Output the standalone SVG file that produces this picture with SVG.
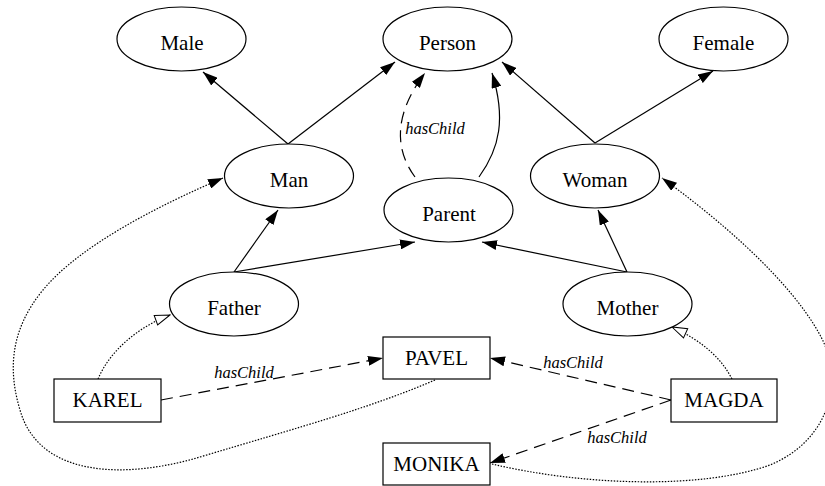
<svg xmlns="http://www.w3.org/2000/svg" width="825" height="486" viewBox="0 0 825 486">
  <defs>
    <marker id="arrow" markerUnits="userSpaceOnUse" viewBox="0 0 15 10" refX="15" refY="5" markerWidth="15" markerHeight="10" orient="auto">
      <path d="M0,0 L15,5 L0,10 z" fill="#000"/>
    </marker>
    <marker id="hollow" markerUnits="userSpaceOnUse" viewBox="-1 -1 17 12" refX="15" refY="5" markerWidth="17" markerHeight="12" orient="auto">
      <path d="M0,0 L15,5 L0,10 z" fill="#fff" stroke="#000" stroke-width="1"/>
    </marker>
  </defs>
  <style>
    .node ellipse, .node rect { fill: #fff; stroke: #000; stroke-width: 1.2; }
    .node text { font-family: "Liberation Serif", "Times New Roman", serif; font-size: 21px; text-anchor: middle; fill: #000; }
    .edge { fill: none; stroke: #000; stroke-width: 1.2; }
    .solid { marker-end: url(#arrow); }
    .dashed { stroke-dasharray: 12 7; marker-end: url(#arrow); }
    .dotted { stroke-dasharray: 1.5 1.5; }
    .inst { marker-end: url(#hollow); }
    .ref { marker-end: url(#arrow); }
    .label { font-family: "Liberation Serif", "Times New Roman", serif; font-style: italic; font-size: 16.5px; text-anchor: middle; fill: #000; }
  </style>
  <rect width="825" height="486" fill="#fff"/>

  <g id="connectors">
    <!-- subclass links -->
    <path class="edge solid" d="M288,144 L203,72"/>
    <path class="edge solid" d="M288,144 L395,62"/>
    <path class="edge solid" d="M595,143 L502,62"/>
    <path class="edge solid" d="M595,143 L713,71"/>
    <path class="edge solid" d="M234,272 L278,210"/>
    <path class="edge solid" d="M234,272 L415,242"/>
    <path class="edge solid" d="M627,272 L598,210"/>
    <path class="edge solid" d="M627,272 L482,242"/>
    <!-- Parent to Person -->
    <path class="edge dashed" d="M415,177 C395,150 393,115 425,73"/>
    <path class="edge solid" d="M479,177 C500,148 506,118 492,73"/>
    <!-- instance-of links -->
    <path class="edge dotted inst" d="M98,379 C110,350 140,326 170,315"/>
    <path class="edge dotted inst" d="M732,379 C720,356 700,340 672,327"/>
    <!-- hasChild between individuals -->
    <path class="edge dashed" d="M161,400 L383,358"/>
    <path class="edge dashed" d="M671,400 L490,358"/>
    <path class="edge dashed" d="M671,400 L490,463"/>
    <!-- individuals to their classes -->
    <path class="edge dotted ref" d="M435,380 C370,408 300,427 200,457 C130,478 40,480 20,410 C8,370 10,330 43,290 C80,245 160,205 223,178"/>
    <path class="edge dotted ref" d="M492,464 C580,485 700,490 770,465 C830,440 845,380 820,335 C790,280 720,220 662,178"/>
    <!-- edge labels -->
    <text class="label" x="435" y="134">hasChild</text>
    <text class="label" x="244" y="378">hasChild</text>
    <text class="label" x="573" y="368">hasChild</text>
    <text class="label" x="617" y="443">hasChild</text>
  </g>

  <g id="Male" class="node"><ellipse cx="181.5" cy="39" rx="64.5" ry="32"/><text x="182" y="50">Male</text></g>
  <g id="Person" class="node"><ellipse cx="447.5" cy="39" rx="64.5" ry="32"/><text x="447.5" y="50">Person</text></g>
  <g id="Female" class="node"><ellipse cx="723.5" cy="39" rx="64.5" ry="32"/><text x="723.5" y="50">Female</text></g>
  <g id="Man" class="node"><ellipse cx="289" cy="176" rx="64.5" ry="32"/><text x="289" y="187">Man</text></g>
  <g id="Woman" class="node"><ellipse cx="595" cy="176" rx="64.5" ry="32"/><text x="595" y="187">Woman</text></g>
  <g id="Parent" class="node"><ellipse cx="448.5" cy="210" rx="64.5" ry="32"/><text x="449" y="221">Parent</text></g>
  <g id="Father" class="node"><ellipse cx="234" cy="304" rx="64.5" ry="32"/><text x="234" y="315">Father</text></g>
  <g id="Mother" class="node"><ellipse cx="627.5" cy="304" rx="64.5" ry="32"/><text x="627.5" y="315">Mother</text></g>
  <g id="KAREL" class="node"><rect x="54" y="379" width="107" height="43"/><text x="107.5" y="407">KAREL</text></g>
  <g id="PAVEL" class="node"><rect x="383" y="337" width="107" height="42"/><text x="436.5" y="365">PAVEL</text></g>
  <g id="MAGDA" class="node"><rect x="671" y="379" width="106" height="43"/><text x="724" y="407">MAGDA</text></g>
  <g id="MONIKA" class="node"><rect x="383" y="443" width="107" height="42"/><text x="436.5" y="471">MONIKA</text></g>
</svg>
